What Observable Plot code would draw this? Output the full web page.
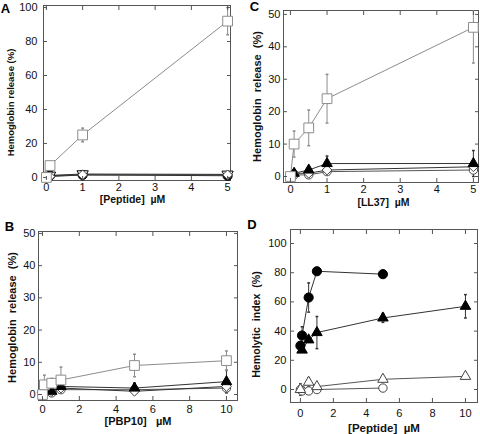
<!DOCTYPE html>
<html><head><meta charset="utf-8">
<script src="https://cdn.jsdelivr.net/npm/d3@7"></script>
<script src="https://cdn.jsdelivr.net/npm/@observablehq/plot@0.6"></script>
<style>
body{margin:0;background:#fff}
#wrap{position:relative;width:480px;height:434px;overflow:hidden}
#wrap svg{position:absolute;overflow:visible}
</style>
</head><body><div id="wrap"></div>
<script>
// ---------- Panel A : [Peptide] µM ----------
const aSqX = [0, 0.1, 1, 5];
const aSqY = [0, 7, 25, 92];
const aSqE = [0, 0, 4, 8];
const aCircX = [0.1, 1, 5];
const aCircY = [1, 1.5, 1];
const aInvX = [0.1, 1, 5];
const aInvY = [1.2, 2, 1.8];
const aDiaX = [0, 0.1, 1, 5];
const aDiaY = [0, 0.5, 1.5, 1.5];
const aXTicks = [0, 1, 2, 3, 4, 5];
const aYTicks = [0, 20, 40, 60, 80, 100];

// ---------- Panel C : [LL37] µM ----------
const cSqX = [0, 0.1, 0.5, 1, 5];
const cSqY = [0, 10, 15, 24, 46];
const cSqE = [0, 4, 5.5, 7.5, 11];
const cTriX = [0.1, 0.5, 1, 5];
const cTriY = [1, 2, 4, 4];
const cTriE = [0, 1, 2.3, 4];
const cDiaX = [0.1, 0.5, 1, 5];
const cDiaY = [1, 1, 2, 3];
const cCirX = [0.1, 0.5, 1, 5];
const cCirY = [0.5, 0.5, 1.5, 2];
const cXTicks = [0, 1, 2, 3, 4, 5];
const cYTicks = [0, 10, 20, 30, 40, 50];

// ---------- Panel B : [PBP10] µM ----------
const bSqX = [0, 0.1, 0.5, 1, 5, 10];
const bSqY = [0, 3, 3.5, 4.5, 9, 10.5];
const bSqE = [0, 3, 1.5, 4, 3.5, 3];
const bTriX = [0, 0.1, 0.5, 1, 5, 10];
const bTriY = [1.5, 1.5, 1, 2.5, 2, 4];
const bTriE = [0, 0, 0.5, 1, 1.5, 3.5];
const bDiaX = [0.5, 1, 5, 10];
const bDiaY = [1, 2, 1, 2.5];
const bCirX = [0.5, 1, 5, 10];
const bCirY = [0.5, 1.5, 1.5, 2];
const bXTicks = [0, 2, 4, 6, 8, 10];
const bYTicks = [0, 10, 20, 30, 40, 50];

// ---------- Panel D : [Peptide] µM ----------
const dCirFX = [0, 0.1, 0.5, 1, 5];
const dCirFY = [30, 37, 63, 81, 79];
const dCirFE = [0, 6, 10, 0, 0];
const dTriFX = [0.1, 0.5, 1, 5, 10];
const dTriFY = [27, 34, 39, 49, 57];
const dTriFE = [0, 0, 11, 3, 8];
const dTriOX = [0, 0.5, 1, 5, 10];
const dTriOY = [0, 5, 2, 7, 9];
const dTriOE = [4, 3, 2, 0, 0];
const dCirOX = [0, 0.1, 0.5, 1, 5];
const dCirOY = [0, -1, -1, 0, 1];
const dXTicks = [0, 2, 4, 6, 8, 10];
const dYTicks = [0, 20, 40, 60, 80, 100];

// ---------- helpers ----------
const rows = (xs, ys, es) => xs.map((x, i) => ({x, y: ys[i], e: es ? es[i] : 0}));
const invTri = {draw(ctx, size) {
  const y = -Math.sqrt(size / (Math.sqrt(3) * 3));
  ctx.moveTo(0, -y * 2); ctx.lineTo(-Math.sqrt(3) * y, y); ctx.lineTo(Math.sqrt(3) * y, y); ctx.closePath();
}};
const cap = {draw(ctx, size) { const w = Math.sqrt(size) / 2; ctx.moveTo(-w, 0); ctx.lineTo(w, 0); }};
const blank = () => "";
const NB = "\u00a0";

const GREY = "#8c8c8c", DARK = "#333";
const st = {
  square:   {symbol: "square", fill: "white", stroke: GREY, line: GREY, r: 5.5},
  circF:    {symbol: "circle", fill: "black", stroke: "black", line: DARK, r: 4.6},
  triF:     {symbol: "triangle", fill: "black", stroke: "black", line: DARK, r: 3.9},
  triO:     {symbol: "triangle", fill: "white", stroke: "#444", line: "#555", r: 3.9},
  dia:      {symbol: "diamond2", fill: "white", stroke: "#444", line: DARK, r: 4.4},
  circO:    {symbol: "circle", fill: "white", stroke: "#444", line: "#555", r: 4.2},
  inv:      {symbol: invTri, fill: "white", stroke: "black", line: DARK, r: 4.2}
};

function panel(cfg) {
  const marks = [Plot.frame({stroke: "#555"})];
  const ser = cfg.series;
  for (const s of ser) {
    marks.push(Plot.line(s.data, {x: "x", y: "y", stroke: s.style.line, strokeWidth: 1, clip: true}));
    const eb = s.data.filter(d => d.e > 0);
    const ec = s.style.line;
    marks.push(Plot.ruleX(eb, {x: "x", y1: d => d.y - d.e, y2: d => d.y + d.e, stroke: ec, strokeWidth: 1, clip: true}));
    marks.push(Plot.dot(eb, {x: "x", y: d => d.y + d.e, symbol: cap, r: 1.6, stroke: ec, fill: "none", clip: true}));
    marks.push(Plot.dot(eb, {x: "x", y: d => d.y - d.e, symbol: cap, r: 1.6, stroke: ec, fill: "none", clip: true}));
  }
  for (const s of ser) {
    marks.push(Plot.dot(s.data, {x: "x", y: "y", symbol: s.style.symbol, r: s.style.r,
      fill: s.style.fill, stroke: s.style.stroke, strokeWidth: 1}));
  }
  // inward ticks on all four sides (no text)
  marks.push(Plot.axisX({anchor: "bottom", ticks: cfg.xTicks, tickSize: -4, tickFormat: blank, label: null, stroke: "#555"}));
  marks.push(Plot.axisX({anchor: "top", ticks: cfg.xTicks, tickSize: -4, tickFormat: blank, label: null, stroke: "#555"}));
  marks.push(Plot.axisY({anchor: "left", ticks: cfg.yTicks, tickSize: -4, tickFormat: blank, label: null, stroke: "#555"}));
  marks.push(Plot.axisY({anchor: "right", ticks: cfg.yTicks, tickSize: -4, tickFormat: blank, label: null, stroke: "#555"}));
  // tick labels
  marks.push(Plot.axisX({anchor: "bottom", ticks: cfg.xTicks, tickSize: 0, tickPadding: cfg.xPad, tickFormat: d => String(d), label: null, fill: "#111"}));
  marks.push(Plot.axisY({anchor: "left", ticks: cfg.yTicks, tickSize: 0, tickPadding: cfg.yPad, tickFormat: d => String(d), label: null, fill: "#111"}));
  // axis titles and panel letter
  marks.push(Plot.text([cfg.yLabel], {frameAnchor: "left", dx: cfg.yl[0], dy: cfg.yl[1], rotate: -90,
    fontWeight: "bold", fontSize: cfg.ylSize, textAnchor: "middle", fill: "#111"}));
  marks.push(Plot.text([cfg.xLabel], {frameAnchor: "bottom", dx: cfg.xl[0], dy: cfg.xl[1],
    fontWeight: "bold", fontSize: cfg.xlSize, textAnchor: "middle", fill: "#111"}));
  marks.push(Plot.text([cfg.letter], {frameAnchor: "top-left", dx: cfg.lt[0], dy: cfg.lt[1],
    fontWeight: "bold", fontSize: 13, textAnchor: "middle", lineAnchor: "middle", fill: "#000"}));
  const svg = Plot.plot({
    width: 240, height: 217,
    marginLeft: cfg.m[0], marginRight: cfg.m[1], marginTop: cfg.m[2], marginBottom: cfg.m[3],
    x: {domain: cfg.xDomain, label: null},
    y: {domain: cfg.yDomain, label: null},
    style: {fontFamily: "'Liberation Sans', Arial, sans-serif", fontSize: "11px", background: "transparent", overflow: "visible"},
    marks
  });
  svg.style.left = cfg.pos[0] + "px";
  svg.style.top = cfg.pos[1] + "px";
  document.getElementById("wrap").appendChild(svg);
}

panel({
  letter: "A", pos: [0, 0], m: [43, 10, 5, 37],
  xDomain: [-0.08, 5.08], yDomain: [-1.8, 101.2], xTicks: aXTicks, yTicks: aYTicks,
  xPad: 3, yPad: 6, yLabel: "Hemoglobin release (%)", ylSize: 9.5, yl: [-33, 9.5],
  xLabel: "[Peptide]" + NB + " µM", xlSize: 10.5, xl: [-4.5, 22], lt: [-38, 3],
  series: [
    {data: rows(aCircX, aCircY), style: st.circF},
    {data: rows(aInvX, aInvY), style: st.inv},
    {data: rows(aDiaX, aDiaY), style: st.dia},
    {data: rows(aSqX, aSqY, aSqE), style: st.square}
  ]
});

panel({
  letter: "C", pos: [240, 0], m: [43, 2, 10, 35],
  xDomain: [-0.19, 5.14], yDomain: [-1.85, 51.2], xTicks: cXTicks, yTicks: cYTicks,
  xPad: 3, yPad: 3, yLabel: "Hemoglobin" + NB + " release" + NB + " (%)", ylSize: 11, yl: [-26, 0],
  xLabel: "[LL37]" + NB + " µM", xlSize: 10.5, xl: [2.5, 23], lt: [-29, -3.5],
  series: [
    {data: rows(cCirX, cCirY), style: st.circO},
    {data: rows(cDiaX, cDiaY), style: st.dia},
    {data: rows(cTriX, cTriY, cTriE), style: st.triF},
    {data: rows(cSqX, cSqY, cSqE), style: st.square}
  ]
});

panel({
  letter: "B", pos: [0, 217], m: [38, 3, 14, 34],
  xDomain: [-0.22, 10.6], yDomain: [-1.86, 50.6], xTicks: bXTicks, yTicks: bYTicks,
  xPad: 4.5, yPad: 3, yLabel: "Hemoglobin" + NB + " release" + NB + " (%)", ylSize: 11, yl: [-26, 1.5],
  xLabel: "[PBP10]" + NB + NB + " µM", xlSize: 11, xl: [0, 24], lt: [-29, -5],
  series: [
    {data: rows(bCirX, bCirY), style: st.circO},
    {data: rows(bDiaX, bDiaY), style: st.dia},
    {data: rows(bTriX, bTriY, bTriE), style: st.triF},
    {data: rows(bSqX, bSqY, bSqE), style: st.square}
  ]
});

panel({
  letter: "D", pos: [240, 217], m: [50, 3, 12, 32],
  xDomain: [-0.6, 10.73], yDomain: [-8.9, 109.6], xTicks: dXTicks, yTicks: dYTicks,
  xPad: 7, yPad: 4, yLabel: "Hemolytic" + NB + " index" + NB + " (%)", ylSize: 10.6, yl: [-34, 8.5],
  xLabel: "[Peptide]" + NB + " µM", xlSize: 11.5, xl: [0, 29], lt: [-38.5, -4.5],
  series: [
    {data: rows(dCirOX, dCirOY), style: st.circO},
    {data: rows(dTriOX, dTriOY, dTriOE), style: st.triO},
    {data: rows(dTriFX, dTriFY, dTriFE), style: st.triF},
    {data: rows(dCirFX, dCirFY, dCirFE), style: st.circF}
  ]
});
</script>
</body></html>
